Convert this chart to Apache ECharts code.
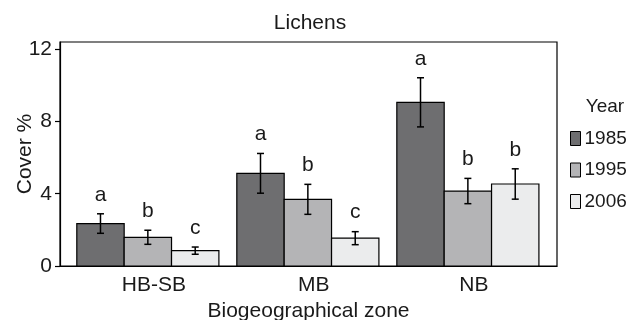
<!DOCTYPE html>
<html>
<head>
<meta charset="utf-8">
<script src="https://cdn.jsdelivr.net/npm/echarts@6/dist/echarts.min.js"></script>
<style>
  html, body { margin: 0; padding: 0; background: #fff; }
  #chart { width: 628px; height: 320px; }
</style>
</head>
<body>
<div id="chart"></div>
<script>
const categories = ['HB-SB', 'MB', 'NB'];
const years = ['1985', '1995', '2006'];

const cover1985 = [2.35, 5.13, 9.06];
const err1985 = [0.54, 1.1, 1.36];
const letters1985 = ['a', 'a', 'a'];

const cover1995 = [1.59, 3.69, 4.15];
const err1995 = [0.39, 0.83, 0.7];
const letters1995 = ['b', 'b', 'b'];

const cover2006 = [0.85, 1.54, 4.54];
const err2006 = [0.2, 0.36, 0.84];
const letters2006 = ['c', 'c', 'b'];

const yTicks = [0, 4, 8, 12];

const FONT = '"Liberation Sans", Arial, sans-serif';
const FS = 21;
const LEG_FS = 19;
const TEXT = '#1a1a1a';
const colors = ['#6e6e70', '#b4b4b6', '#ebeced'];

const chart = echarts.init(document.getElementById('chart'));

// one custom series per year: bar + error bar + letter
function makeSeries(k, values, errs, letters) {
    return {
        name: years[k],
        type: 'custom',
        itemStyle: { color: colors[k], borderColor: '#000', borderWidth: 1 },
        data: values.map((v, i) => [i, v, errs[i]]),
        renderItem: (params, api) => {
            const x = api.value(0);
            const v = api.value(1);
            const e = api.value(2);
            const bw = api.size([1, 0])[0] * 0.296;
            const base = api.coord([x, 0]);
            const cx = base[0] + (k - 1) * bw;
            const top = api.coord([x, v])[1];
            const eTop = api.coord([x, v + e])[1];
            const eBot = api.coord([x, v - e])[1];
            const cap = 3.5;
            const lineStyle = { stroke: '#000', lineWidth: 1.5 };
            return {
                type: 'group',
                children: [
                    {
                        type: 'rect',
                        shape: { x: cx - bw / 2, y: top, width: bw, height: base[1] - top },
                        style: { fill: colors[k], stroke: '#000', lineWidth: 1.2 }
                    },
                    { type: 'line', shape: { x1: cx, y1: eTop, x2: cx, y2: eBot }, style: lineStyle },
                    { type: 'line', shape: { x1: cx - cap, y1: eTop, x2: cx + cap, y2: eTop }, style: lineStyle },
                    { type: 'line', shape: { x1: cx - cap, y1: eBot, x2: cx + cap, y2: eBot }, style: lineStyle },
                    {
                        type: 'text',
                        style: {
                            text: letters[params.dataIndex],
                            x: cx, y: eTop - 19,
                            align: 'center', verticalAlign: 'middle',
                            font: FS + 'px ' + FONT, fill: TEXT
                        }
                    }
                ]
            };
        }
    };
}

const option = {
    animation: false,
    backgroundColor: '#fff',
    title: [
        {
            text: 'Lichens', left: 310, top: 13, textAlign: 'center', padding: 0,
            textStyle: { fontSize: FS, fontWeight: 'normal', fontFamily: FONT, color: TEXT }
        },
        {
            text: 'Year', left: 605, top: 97, textAlign: 'center', padding: 0,
            textStyle: { fontSize: LEG_FS, fontWeight: 'normal', fontFamily: FONT, color: TEXT }
        }
    ],
    legend: {
        orient: 'vertical',
        left: 570,
        top: 129,
        padding: 0,
        itemWidth: 10,
        itemHeight: 14,
        itemGap: 12.5,
        icon: 'rect',
        selectedMode: false,
        textStyle: { fontSize: LEG_FS, fontFamily: FONT, color: TEXT, padding: [0, 0, 0, -1] },
        data: years.map((y, k) => ({
            name: y,
            itemStyle: { color: colors[k], borderColor: '#000', borderWidth: 1 }
        }))
    },
    grid: {
        left: 60,
        top: 42,
        right: 71,
        bottom: 54,
        outerBoundsMode: 'none',
        containLabel: false,
        show: true,
        borderColor: '#000',
        borderWidth: 1.2,
        backgroundColor: 'transparent'
    },
    xAxis: {
        type: 'value',
        min: -0.549,
        max: 2.557,
        name: 'Biogeographical zone',
        nameLocation: 'middle',
        nameGap: 35,
        nameMoveOverlap: false,
        nameTextStyle: { fontSize: FS, fontFamily: FONT, color: TEXT, verticalAlign: 'top' },
        axisLine: { show: true, onZero: false, lineStyle: { color: '#000', width: 1.2 } },
        axisTick: { show: false },
        splitLine: { show: false },
        axisLabel: {
            customValues: [0, 1, 2],
            formatter: (v) => categories[Math.round(v)],
            margin: 9,
            padding: [0, 0, 0, 12],
            fontSize: FS,
            fontFamily: FONT,
            color: TEXT
        }
    },
    yAxis: {
        type: 'value',
        min: 0,
        max: 12.4,
        name: 'Cover %',
        nameLocation: 'middle',
        nameGap: 24,
        nameRotate: 90,
        nameMoveOverlap: false,
        nameTextStyle: { fontSize: FS, fontFamily: FONT, color: TEXT },
        axisLine: { show: true, onZero: false, lineStyle: { color: '#000', width: 1.2 } },
        axisTick: { show: true, customValues: yTicks, length: 5, lineStyle: { color: '#000', width: 1.2 } },
        splitLine: { show: false },
        axisLabel: {
            customValues: yTicks,
            margin: 8,
            fontSize: FS,
            fontFamily: FONT,
            color: TEXT
        }
    },
    series: [
        makeSeries(0, cover1985, err1985, letters1985),
        makeSeries(1, cover1995, err1995, letters1995),
        makeSeries(2, cover2006, err2006, letters2006)
    ]
};

chart.setOption(option);
</script>
</body>
</html>
